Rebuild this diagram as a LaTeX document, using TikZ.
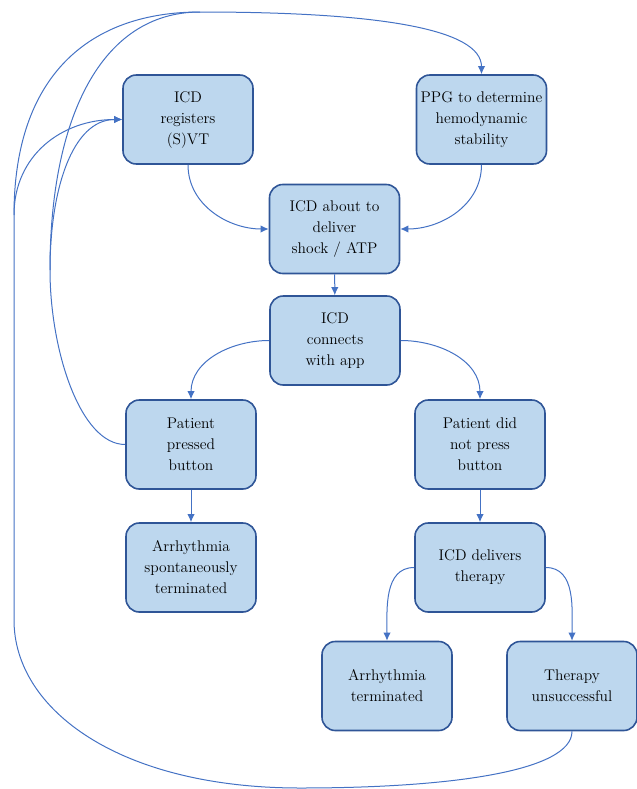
\documentclass[tikz,border=0pt]{standalone}
\usetikzlibrary{arrows.meta}
\definecolor{boxfill}{HTML}{BDD7EE}
\definecolor{boxline}{HTML}{2F5597}
\definecolor{arrowline}{HTML}{4472C4}

\begin{document}
\begin{tikzpicture}[x=0.75pt,y=-0.75pt,
    box/.style={rectangle,rounded corners=10pt,draw=boxline,fill=boxfill,line width=1.2pt,
      minimum width=97.5pt,minimum height=66.75pt,inner sep=0,align=center,
      font=\fontsize{11.6}{15.75}\selectfont},
    flow/.style={->,>={Latex[length=6pt,width=5.5pt]},draw=arrowline,line width=0.75pt}]
  \useasboundingbox (0,0) rectangle (636,789);

  \node [box] (reg) at (188,119.5) {ICD\\registers\\(S)VT};
  \node [box] (ppg) at (481.5,119.5) {PPG to determine\\hemodynamic\\stability};
  \node [box] (about) at (334.5,229) {ICD about to\\deliver\\shock / ATP};
  \node [box] (conn) at (335,340.5) {ICD\\connects\\with app};
  \node [box] (pressed) at (191,444.5) {Patient\\pressed\\button};
  \node [box] (didnot) at (480,444.5) {Patient did\\not press\\button};
  \node [box] (spont) at (191,567.5) {Arrhythmia\\spontaneously\\terminated};
  \node [box] (delivers) at (480,567.5) {ICD delivers\\therapy};
  \node [box] (arrterm) at (387,686) {Arrhythmia\\terminated};
  \node [box] (unsucc) at (572,686) {Therapy\\unsuccessful};

  \draw [flow] (reg.south) to[out=-90,in=180] (about.west);
  \draw [flow] (ppg.south) to[out=-90,in=0] (about.east);
  \draw [flow] (about) -- (conn);
  \draw [flow] (conn.west) to[out=180,in=90] (pressed.north);
  \draw [flow] (conn.east) to[out=0,in=90] (didnot.north);
  \draw [flow] (pressed) -- (spont);
  \draw [flow] (didnot) -- (delivers);
  \draw [flow] (delivers.west) to[out=180,in=90] (arrterm.north);
  \draw [flow] (delivers.east) to[out=0,in=90] (unsucc.north);

  % loops back to the top
  \coordinate (top) at (200,12);
  \coordinate (bot) at (300,788);
  \coordinate (lc) at (14,620);
  \coordinate (lo) at (14,215);
  \coordinate (li) at (50,270);
  \draw [flow] (unsucc.south) .. controls +(0,40) and +(150,0) .. (bot)
    .. controls +(-180,0) and +(0,90) .. (lc) -- (lo)
    .. controls +(0,-60) and +(-60,0) .. (reg.west);
  \draw [flow] (lo) .. controls +(0,-140) and +(-110,0) .. (top)
    .. controls +(180,0) and +(0,-45) .. (ppg.north);
  \draw [flow] (pressed.west) .. controls +(-45,0) and +(0,80) .. (li)
    .. controls +(0,-80) and +(-50,0) .. (reg.west);
  \draw [flow,-] (li) .. controls +(0,-150) and +(-100,0) .. (top);
\end{tikzpicture}
\end{document}
